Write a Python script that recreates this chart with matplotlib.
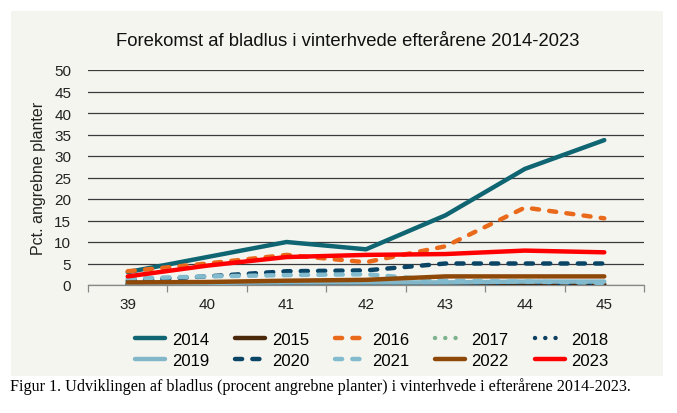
import matplotlib
matplotlib.use("Agg")
import matplotlib.pyplot as plt
from matplotlib.patches import Rectangle
from matplotlib.ticker import MultipleLocator, FixedLocator

weeks = [39, 40, 41, 42, 43, 44, 45]
years = ["2014", "2015", "2016", "2017", "2018", "2019", "2020", "2021", "2022", "2023"]
y2014 = [3.0, 6.5, 10.0, 8.3, 16.2, 27.0, 33.7]
y2015 = [0.2, 0.2, 0.3, 0.3, 0.3, 0.3, 0.2]
y2016 = [3.2, 5.0, 7.0, 5.3, 9.0, 18.0, 15.5]
y2017 = [0.3, 0.3, 0.3, 0.3, 0.5, 0.8, 0.3]
y2018 = [0.1, 0.1, 0.1, 0.1, 0.3, 0.6, 0.2]
y2019 = [0.5, 0.5, 0.6, 0.6, 0.6, 0.8, 0.8]
y2020 = [1.0, 2.0, 3.2, 3.4, 5.0, 5.0, 5.0]
y2021 = [1.5, 2.0, 2.3, 2.5, 1.0, 0.8, 0.5]
y2022 = [0.6, 0.7, 1.0, 1.2, 2.0, 2.0, 2.0]
y2023 = [2.0, 4.5, 6.5, 7.0, 7.2, 8.0, 7.6]
series = [y2014, y2015, y2016, y2017, y2018, y2019, y2020, y2021, y2022, y2023]

colors = ["#0F6672", "#4B2A0C", "#EA6A1C", "#7DB38C", "#0C3F60",
          "#82B7CA", "#0B4566", "#82BBCE", "#8E4808", "#FF0000"]
styles = ["solid", "solid", "dash", "dot", "dot", "solid", "dash", "dash", "solid", "solid"]

plt.rcParams['font.family'] = ['Liberation Sans', 'DejaVu Sans']

fig = plt.figure(figsize=(6.77, 4.14), dpi=100)
fig.patch.set_facecolor("white")
bg = Rectangle((11 / 677, 1 - 377 / 414), (663 - 11) / 677, (377 - 12) / 414,
               transform=fig.transFigure, facecolor="#F5F5F0", edgecolor="none", zorder=-10)
fig.patches.append(bg)

ax = fig.add_axes([88 / 677, 1 - 286 / 414, (644 - 88) / 677, (286 - 71) / 414])
ax.set_facecolor("none")

lw = 3.2
handles = []
for name, vals, c, st in zip(years, series, colors, styles):
    if st == "solid":
        h, = ax.plot(weeks, vals, color=c, lw=lw, solid_capstyle="round",
                     solid_joinstyle="round", label=name, zorder=3)
    elif st == "dash":
        h, = ax.plot(weeks, vals, color=c, lw=lw, dashes=(1.6, 2.3),
                     dash_capstyle="round", dash_joinstyle="round", label=name, zorder=3)
    else:
        h, = ax.plot(weeks, vals, color=c, lw=lw, dashes=(0.01, 2.3),
                     dash_capstyle="round", label=name, zorder=3)
    handles.append(h)

ax.set_xlim(38.5, 45.5)
ax.set_ylim(0, 50)
ax.yaxis.set_major_locator(MultipleLocator(5))
ax.grid(axis="y", color="#3A3A3A", lw=0.9, zorder=1)
ax.set_axisbelow(True)
ax.xaxis.set_major_locator(FixedLocator(weeks))
ax.xaxis.set_minor_locator(FixedLocator([w - 0.5 for w in weeks] + [45.5]))
ax.tick_params(axis="x", which="major", length=0, pad=9, labelsize=11, labelcolor="#222222")
ax.tick_params(axis="x", which="minor", length=5, width=0.9, color="#888888")
ax.tick_params(axis="y", length=0, pad=12, labelsize=11, labelcolor="#222222")
for s in ["top", "right", "left"]:
    ax.spines[s].set_visible(False)
ax.spines["bottom"].set_color("#888888")
ax.spines["bottom"].set_linewidth(0.9)
ax.set_ylabel("Pct. angrebne planter", fontsize=11.5, color="#222222", labelpad=6)

fig.text(348 / 677, 1 - 41 / 414, "Forekomst af bladlus i vinterhvede efterårene 2014-2023",
         ha="center", va="center", fontsize=13.3, color="#111111")

order = [0, 5, 1, 6, 2, 7, 3, 8, 4, 9]
leg = fig.legend([handles[i] for i in order], [years[i] for i in order],
                 ncol=5, loc="center", bbox_to_anchor=(372 / 677, 1 - 351 / 414),
                 frameon=False, fontsize=12, handlelength=1.8, handletextpad=0.4,
                 columnspacing=1.55, labelspacing=0.38)

fig.text(10 / 677, 1 - 387 / 414,
         "Figur 1. Udviklingen af bladlus (procent angrebne planter) i vinterhvede i efterårene 2014-2023.",
         ha="left", va="center", fontsize=11.6, family=["Liberation Serif", "DejaVu Serif"],
         color="black")

fig.savefig("out.png", dpi=100, facecolor="white")
